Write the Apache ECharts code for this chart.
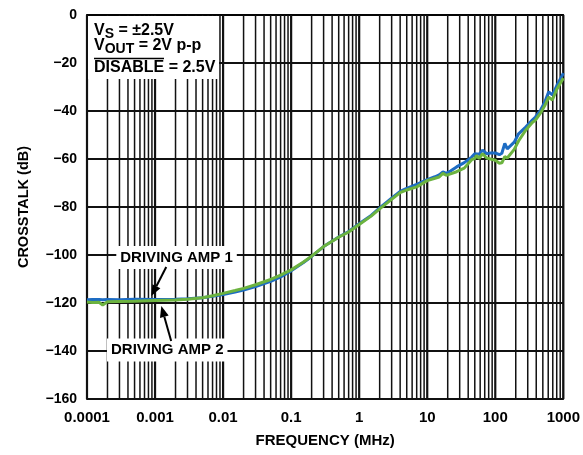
<!DOCTYPE html>
<html><head><meta charset="utf-8">
<script src="https://cdn.jsdelivr.net/npm/echarts@6/dist/echarts.min.js"></script>
<style>html,body{margin:0;padding:0;background:#fff}#c{width:583px;height:455px}</style>
</head><body><div id="c"></div>
<script>
// ---- data ----
const freqMHz = [0.0001,0.00012,0.00015,0.00017,0.0002,0.0003,0.0005,0.001,0.002,0.003,0.005,0.007,
  0.01,0.015,0.02,0.03,0.05,0.07,0.1,0.15,0.2,0.3,0.5,0.7,1,1.5,2,3,4,5,7,10,13,15,17,19,22,27,35,45,
  50,53,58,65,75,85,100,115,125,138,150,160,190,220,280,350,390,464,540,610,690,800,900,1000];
const amp1Crosstalk = [-118.6,-118.5,-118.5,-118.6,-118.5,-118.6,-118.4,-118.5,-118.4,-118.2,-117.8,-117.2,
  -116.5,-115.4,-114.6,-113.2,-111.0,-109.1,-106.6,-103.2,-100.6,-96.5,-92.5,-90.2,-87.0,-83.5,-80.4,-76.3,-73.5,-72.2,-70.6,-68.6,-67.4,-66.6,-65.4,-66.0,-65.0,-63.3,-61.5,-59.2,
  -57.8,-57.0,-58.0,-56.3,-57.8,-57.5,-57.5,-58.2,-57.6,-53.5,-55.8,-56.5,-53.0,-49.5,-46.7,-43.8,-42.5,-39.6,-36.0,-32.0,-33.3,-29.5,-26.8,-24.2];
const amp2Crosstalk = [-119.6,-119.8,-119.7,-120.8,-119.5,-119.4,-119.3,-119.0,-118.8,-118.4,-117.8,-117.0,
  -116.0,-114.8,-113.9,-112.4,-110.2,-108.4,-106.2,-103.0,-100.5,-96.5,-92.6,-90.4,-87.3,-83.8,-80.8,-76.8,-74.0,-72.9,-71.6,-69.0,-68.0,-67.5,-66.0,-66.8,-66.2,-65.3,-63.8,-60.3,
  -59.8,-58.6,-59.8,-57.8,-59.6,-60.0,-60.5,-61.8,-61.6,-59.0,-59.6,-60.4,-56.0,-52.5,-48.0,-44.8,-43.8,-40.8,-37.5,-34.2,-35.4,-31.0,-28.5,-26.3];
const xTickLabels = ['0.0001','0.001','0.01','0.1','1','10','100','1000'];
const yTickLabels = ['0','\u221220','\u221240','\u221260','\u221280','\u2212100','\u2212120','\u2212140','\u2212160'];
const seriesNames = ['DRIVING AMP 1','DRIVING AMP 2'];
const xAxisTitle = 'FREQUENCY (MHz)';
const yAxisTitle = 'CROSSTALK (dB)';

// log-axis grid lines: 1..9 times each decade
const gridFreqs = [];
for (let k = -4; k <= 2; k++) for (let m = 1; m <= 9; m++) gridFreqs.push(+(m + 'e' + k));
gridFreqs.push(1000);

const FONT = '"Liberation Sans", Arial, sans-serif';
const chart = echarts.init(document.getElementById('c'), null, {renderer: 'canvas'});

const option = {
  animation: false,
  backgroundColor: '#fff',
  grid: {left: 87, right: 15, top: 15, bottom: 56, show: true, borderColor: '#000', borderWidth: 1.5, containLabel: false},
  xAxis: {
    type: 'log', logBase: 10, min: 0.0001, max: 1000,
    name: xAxisTitle, nameLocation: 'middle', nameGap: 34,
    nameTextStyle: {fontFamily: FONT, fontWeight: 'bold', fontSize: 15, color: '#000'},
    axisLine: {show: true, lineStyle: {color: '#000', width: 1.5}},
    axisTick: {show: false},
    splitLine: {show: false},
    axisLabel: {
      fontFamily: FONT, fontWeight: 'bold', fontSize: 15, color: '#000', margin: 11,
      showMinLabel: true, showMaxLabel: true, hideOverlap: false,
      formatter: v => xTickLabels[Math.round(Math.log10(v)) + 4]
    }
  },
  yAxis: {
    type: 'value', min: -160, max: 0, interval: 20,
    name: yAxisTitle, nameLocation: 'middle', nameGap: 56, nameRotate: 90,
    nameTextStyle: {fontFamily: FONT, fontWeight: 'bold', fontSize: 14.5, color: '#000'},
    axisLine: {show: true, lineStyle: {color: '#000', width: 1.5}},
    axisTick: {show: false},
    splitLine: {show: true, lineStyle: {color: '#111', width: 2}},
    axisLabel: {
      fontFamily: FONT, fontWeight: 'bold', fontSize: 14, color: '#000', margin: 10,
      formatter: v => yTickLabels[Math.round(-v / 20)]
    }
  },
  series: [
    {
      type: 'custom', silent: true, z: 1,
      data: gridFreqs.map(f => [f, 0]),
      renderItem(params, api) {
        const f = api.value(0);
        const p1 = api.coord([f, 0]);
        const p2 = api.coord([f, -160]);
        const lg = Math.log10(f);
        const decade = Math.abs(lg - Math.round(lg)) < 1e-6;
        return {type: 'line', shape: {x1: p1[0], y1: p1[1], x2: p2[0], y2: p2[1]},
          style: {stroke: '#111', lineWidth: decade ? 2.2 : 1.5}};
      }
    },
    {
      name: seriesNames[0], type: 'line', z: 3, showSymbol: false, symbol: 'none',
      data: freqMHz.map((f, i) => [f, amp1Crosstalk[i]]),
      lineStyle: {color: '#1d6cc3', width: 3}, itemStyle: {color: '#1d6cc3'}
    },
    {
      name: seriesNames[1], type: 'line', z: 4, showSymbol: false, symbol: 'none',
      data: freqMHz.map((f, i) => [f, amp2Crosstalk[i]]),
      lineStyle: {color: '#6cb33f', width: 3}, itemStyle: {color: '#6cb33f'}
    }
  ]
};
chart.setOption(option);

// ---- annotations (positioned in data coordinates) ----
const toPx = (f, v) => chart.convertToPixel({gridIndex: 0}, [f, v]);
function arrow(from, tip) {
  const a = toPx(from[0], from[1]), b = toPx(tip[0], tip[1]);
  const dx = b[0] - a[0], dy = b[1] - a[1], L = Math.hypot(dx, dy);
  const ux = dx / L, uy = dy / L, hl = 11, hw = 4.5;
  const bx = b[0] - ux * hl, by = b[1] - uy * hl;
  return [
    {type: 'line', z: 101, shape: {x1: a[0], y1: a[1], x2: bx, y2: by}, style: {stroke: '#000', lineWidth: 2}},
    {type: 'polygon', z: 101, shape: {points: [[b[0], b[1]], [bx - uy * hw, by + ux * hw], [bx + uy * hw, by - ux * hw]]}, style: {fill: '#000'}}
  ];
}
const p1 = toPx(0.00207, -101);
const p2 = toPx(0.00151, -139.6);
const rich = {
  m: {fontFamily: FONT, fontWeight: 'bold', fontSize: 16, color: '#000', lineHeight: 20},
  s: {fontFamily: FONT, fontWeight: 'bold', fontSize: 14, color: '#000', lineHeight: 14, padding: [6, 0, 0, 0]}
};
chart.setOption({
  graphic: [
    {type: 'rect', z: 100, shape: {x: 88, y: 16, width: 131, height: 63}, style: {fill: '#fff'}},
    {type: 'text', z: 101, x: 94, y: 31, style: {text: '{m|V}{s|S}{m| = \u00b12.5V}', rich: rich, verticalAlign: 'middle'}},
    {type: 'text', z: 101, x: 94, y: 46, style: {text: '{m|V}{s|OUT}{m| = 2V p-p}', rich: rich, verticalAlign: 'middle'}},
    {type: 'text', z: 101, x: 94, y: 68, style: {text: 'DISABLE = 2.5V', font: 'bold 16px ' + FONT, fill: '#000', verticalAlign: 'middle'}},
    {type: 'line', z: 101, shape: {x1: 94, y1: 58.5, x2: 164, y2: 58.5}, style: {stroke: '#000', lineWidth: 1.5}},
    {type: 'text', z: 101, x: p1[0], y: p1[1], style: {text: seriesNames[0], font: 'bold 15px ' + FONT, fill: '#000', align: 'center', verticalAlign: 'middle', backgroundColor: '#fff', padding: [4, 4]}},
    {type: 'text', z: 101, x: p2[0], y: p2[1], style: {text: seriesNames[1], font: 'bold 15px ' + FONT, fill: '#000', align: 'center', verticalAlign: 'middle', backgroundColor: '#fff', padding: [4, 4]}},
    ...arrow([0.00146, -105], [0.000883, -117.1]),
    ...arrow([0.001726, -135.8], [0.001237, -121.3])
  ]
});
</script></body></html>
